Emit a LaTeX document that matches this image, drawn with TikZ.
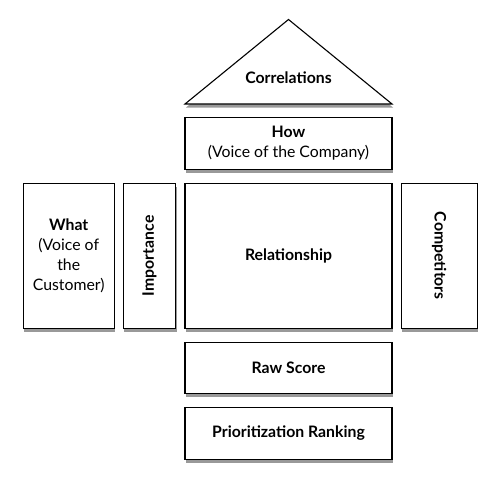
\documentclass[tikz,border=0pt]{standalone}
\usepackage{fontspec}
\setmainfont{Lato}
\usetikzlibrary{shadows,positioning}

\begin{document}
\begin{tikzpicture}
[x=1pt,y=-1pt,
every block/.style={draw=black,line width=1.1pt,fill=white,align=center,
  inner sep=0pt,font=\fontsize{15.8}{19.7}\selectfont,
  drop shadow={shadow xshift=1pt,shadow yshift=-3.5pt,fill=black,opacity=0.4}},
block/.style={every block},
label text/.style={font=\fontsize{15.8}{19.7}\selectfont\bfseries}]
\useasboundingbox (0,0) rectangle (500,487);
% roof
\coordinate (roofl) at (185,104);
\coordinate (rooft) at (288.5,19.5);
\coordinate (roofr) at (392,104);
\draw[block] (roofl) -- (rooft) -- (roofr) -- cycle;
\node[label text] (corr) at (288.5,77.5) {Correlations};
% columns
\node[block,minimum width=207pt,minimum height=52pt] (how) at (288.5,143.3)
  {\textbf{How}\\(Voice of the Company)};
\node[block,minimum width=90.7pt,minimum height=145pt] (what) at (68.7,255.8)
  {\textbf{What}\\(Voice of\\the\\Customer)};
\node[block,minimum width=52.4pt,minimum height=145pt] (imp) at (149.5,255.8) {};
\node[label text,rotate=90] at (imp) {Importance};
\node[block,minimum width=207pt,minimum height=145pt] (rel) at (288.5,255.8)
  {\textbf{Relationship}};
\node[block,minimum width=76.3pt,minimum height=145pt] (comp) at (439.2,255.8) {};
\node[label text,rotate=-90] at (comp) {Competitors};
\node[block,minimum width=207pt,minimum height=51pt] (raw) at (288.5,367.8)
  {\textbf{Raw Score}};
\node[block,minimum width=207pt,minimum height=51.6pt] (rank) at (288.5,433.5)
  {\textbf{Prioritization Ranking}};
\end{tikzpicture}
\end{document}
